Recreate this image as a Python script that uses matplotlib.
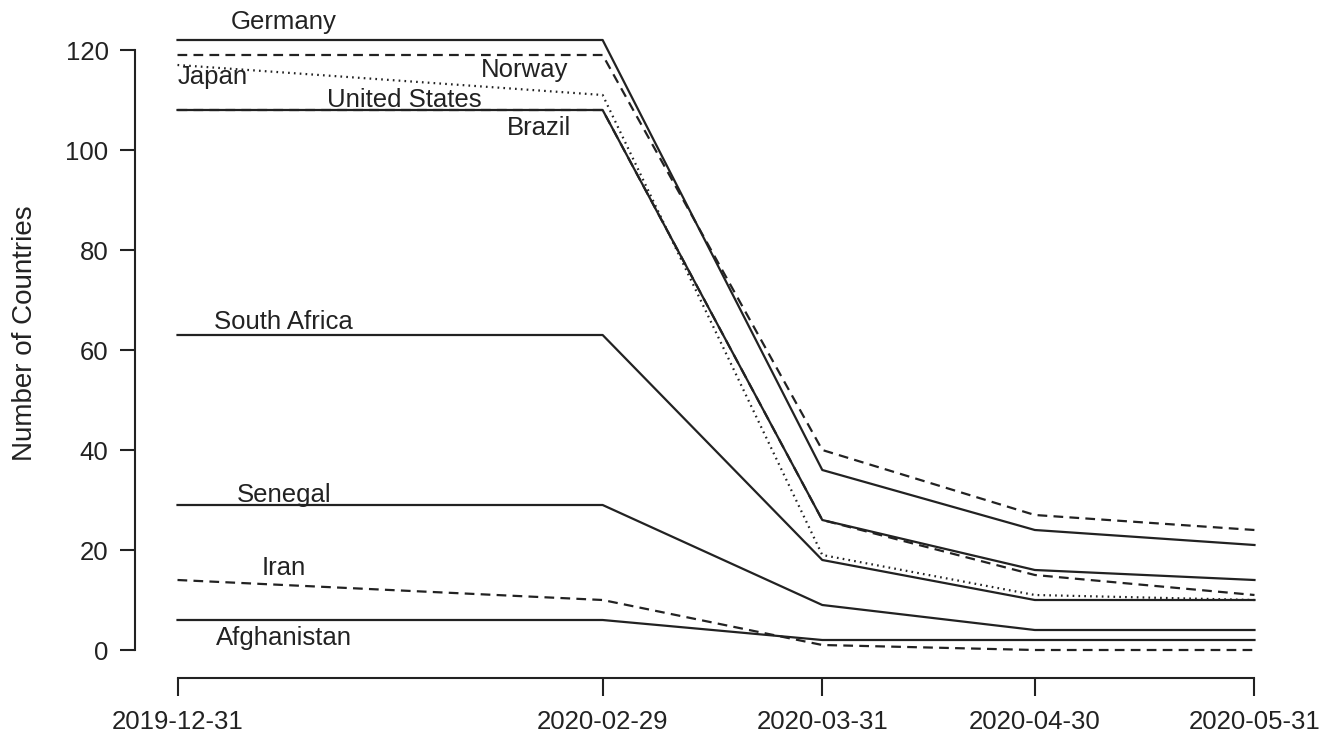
import numpy as np
import matplotlib
matplotlib.use("Agg")
import matplotlib.pyplot as plt
import matplotlib.dates as mdates

plt.rcParams['font.family'] = ['Liberation Sans', 'DejaVu Sans']
plt.rcParams['lines.scale_dashes'] = False

# dates and values
dates = np.array(['2019-12-31', '2020-02-29', '2020-03-31', '2020-04-30', '2020-05-31'],
                 dtype='datetime64[D]')
germany = [122, 122, 36, 24, 21]
norway = [119, 119, 40, 27, 24]
japan = [117, 111, 19, 11, 10]
united_states = [108, 108, 26, 16, 14]
brazil = [108, 108, 26, 15, 11]
south_africa = [63, 63, 18, 10, 10]
senegal = [29, 29, 9, 4, 4]
iran = [14, 10, 1, 0, 0]
afghanistan = [6, 6, 2, 2, 2]

series = {
    'Germany': germany,
    'Norway': norway,
    'Japan': japan,
    'United States': united_states,
    'Brazil': brazil,
    'South Africa': south_africa,
    'Senegal': senegal,
    'Iran': iran,
    'Afghanistan': afghanistan,
}

solid = '-'
dashed = (0, (7, 4.5))
dotted = (0, (1.2, 3))
styles = {
    'Germany': solid, 'Norway': dashed, 'Japan': dotted,
    'United States': solid, 'Brazil': dashed, 'South Africa': solid,
    'Senegal': solid, 'Iran': dashed, 'Afghanistan': solid,
}

# label anchors (days after 2019-12-31, value)
label_pos = {
    'Germany': (14.7, 125.6), 'Norway': (49, 116), 'Japan': (5, 114.6),
    'United States': (32, 110), 'Brazil': (51, 104.4), 'South Africa': (15, 65.6),
    'Senegal': (15, 31), 'Iran': (15, 16.4), 'Afghanistan': (15, 2.4),
}

ink = '#222222'
fs = 18.5

fig = plt.figure(figsize=(13.33, 7.4), dpi=100)
W, H = 1333, 740
ax = fig.add_axes([135 / W, (740 - 678) / H, (1297 - 135) / W, (678 - 15) / H])

xd = dates.astype(object)
for name, vals in series.items():
    ax.plot(xd, vals, color=ink, lw=1.6, linestyle=styles[name])

base = dates[0]
for name, (dx, y) in label_pos.items():
    x = (base + np.timedelta64(int(round(dx)), 'D')).astype(object)
    ax.text(x, y, name, ha='center', va='center', fontsize=fs, color=ink)

ax.set_xlim((base - np.timedelta64(6, 'D')).astype(object),
            (base + np.timedelta64(158, 'D')).astype(object))
ax.set_ylim(-5.6, 127)

ax.set_xticks(xd)
ax.set_xticklabels([str(d) for d in dates])
ax.set_yticks([0, 20, 40, 60, 80, 100, 120])
ax.set_ylabel('Number of Countries', fontsize=20, color=ink)
ax.yaxis.set_label_coords(-0.0835, 0.52)

for s in ['top', 'right']:
    ax.spines[s].set_visible(False)
ax.spines['left'].set_bounds(0, 120)
ax.spines['bottom'].set_bounds(mdates.date2num(xd[0]), mdates.date2num(xd[-1]))
for s in ['left', 'bottom']:
    ax.spines[s].set_linewidth(1.5)
    ax.spines[s].set_color(ink)
ax.tick_params(axis='x', length=13, width=1.5, color=ink, labelsize=fs, labelcolor=ink, pad=10)
ax.tick_params(axis='y', length=11, width=1.5, color=ink, labelsize=fs, labelcolor=ink, pad=8)

fig.savefig('out.png', dpi=100)
